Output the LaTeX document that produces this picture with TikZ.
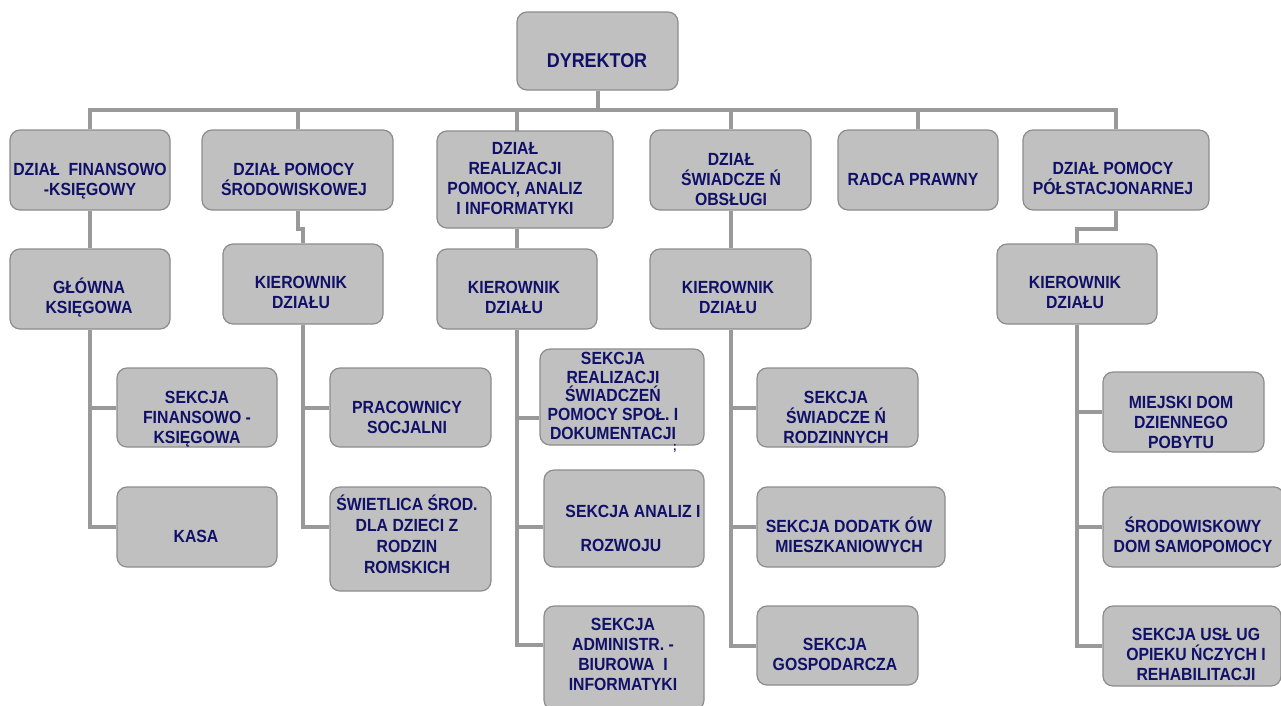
\documentclass[tikz,border=0pt]{standalone}
\usepackage{fontspec}
\setmainfont{Liberation Sans}[FakeStretch=0.897]
\usetikzlibrary{backgrounds}
\definecolor{navy}{RGB}{16,16,104}
\definecolor{boxfill}{RGB}{192,192,192}
\definecolor{boxline}{RGB}{140,140,140}
\definecolor{conncol}{RGB}{153,153,153}
\newcommand\lnA{\rule[-3.7pt]{0pt}{20pt}}
\newcommand\lnB{\rule[-3.075pt]{0pt}{18.75pt}}
\newcommand\lnC{\rule[-4.2pt]{0pt}{21pt}}
\newcommand\fntA{\fontsize{17.6}{20}\selectfont\bfseries\lineskiplimit=-100pt\relax}
\newcommand\fntB{\fontsize{17.6}{18.75}\selectfont\bfseries\lineskiplimit=-100pt\relax}
\newcommand\fntC{\fontsize{17.6}{21}\selectfont\bfseries\lineskiplimit=-100pt\relax}
\tikzset{
  orgbox/.style={draw=boxline, fill=boxfill, line width=1.2pt, rounded corners=10pt, inner sep=0pt},
  txt/.style={text=navy, align=center, inner sep=0pt, font=\fntA},
  txtB/.style={txt, font=\fntB},
  txtC/.style={txt, font=\fntC},
  conn/.style={draw=conncol, line width=4pt}
}
\begin{document}
\begin{tikzpicture}[x=1pt,y=-1pt]
\useasboundingbox (0,0) rectangle (1281,705);
% boxes
\node[orgbox, minimum width=161, minimum height=78] (dyr) at (597.5,51) {};
\node[orgbox, minimum width=160, minimum height=80] (d1) at (90,170) {};
\node[orgbox, minimum width=191, minimum height=80] (d2) at (297.5,170) {};
\node[orgbox, minimum width=176, minimum height=97] (d3) at (525,179.5) {};
\node[orgbox, minimum width=161, minimum height=80] (d4) at (730.5,170) {};
\node[orgbox, minimum width=160, minimum height=80] (d5) at (918,170) {};
\node[orgbox, minimum width=186, minimum height=80] (d6) at (1116,170) {};
\node[orgbox, minimum width=160, minimum height=80] (k1) at (90,289) {};
\node[orgbox, minimum width=160, minimum height=80] (k2) at (303,284) {};
\node[orgbox, minimum width=160, minimum height=80] (k3) at (517,289) {};
\node[orgbox, minimum width=161, minimum height=80] (k4) at (730.5,289) {};
\node[orgbox, minimum width=160, minimum height=80] (k6) at (1077,284) {};
\node[orgbox, minimum width=160, minimum height=79] (s11) at (197,407.5) {};
\node[orgbox, minimum width=160, minimum height=80] (s12) at (197,527) {};
\node[orgbox, minimum width=161, minimum height=79] (s21) at (410.5,407.5) {};
\node[orgbox, minimum width=161, minimum height=104] (s22) at (410.5,539) {};
\node[orgbox, minimum width=164, minimum height=96] (s31) at (622,397) {};
\node[orgbox, minimum width=160, minimum height=97] (s32) at (624,518.5) {};
\node[orgbox, minimum width=160, minimum height=104] (s33) at (624,658) {};
\node[orgbox, minimum width=161, minimum height=79] (s41) at (837.5,407.5) {};
\node[orgbox, minimum width=188, minimum height=80] (s42) at (851,527) {};
\node[orgbox, minimum width=161, minimum height=79] (s43) at (837.5,645.5) {};
\node[orgbox, minimum width=161, minimum height=80] (s61) at (1183.5,412) {};
\node[orgbox, minimum width=181, minimum height=80] (s62) at (1193.5,527) {};
\node[orgbox, minimum width=178, minimum height=80] (s63) at (1192,646) {};
% connectors
\coordinate (bus) at (0,110);
\coordinate (d3drop) at (517,131);
\coordinate (c31) at (517,418);
\coordinate (c32) at (517,527);
\coordinate (c33) at (517,645);
\coordinate (c22) at (303,527);
\begin{pgfonlayer}{background}
\draw[conn] (d1.north) -- (d1.north |- bus) -- (d6.north |- bus) -- (d6.north);
\draw[conn] (dyr.south) -- (dyr.south |- bus);
\draw[conn] (d2.north) -- (d2.north |- bus);
\draw[conn] (d3drop) -- (d3drop |- bus);
\draw[conn] (d4.north) -- (d4.north |- bus);
\draw[conn] (d5.north) -- (d5.north |- bus);
\draw[conn] (d1.south) -- (k1.north);
\draw[conn] (d2.south) -- ++(0,18) -| (k2.north);
\draw[conn] (k3.north |- d3.south) -- (k3.north);
\draw[conn] (d4.south) -- (k4.north);
\draw[conn] (d6.south) -- ++(0,18) -| (k6.north);
% column 1
\draw[conn] (k1.south) |- (s12.west);
\draw[conn] (k1.south |- s11.west) -- (s11.west);
% column 2
\draw[conn] (k2.south) -- (c22) -- (c22 -| s22.west);
\draw[conn] (k2.south |- s21.west) -- (s21.west);
% column 3
\draw[conn] (k3.south) -- (c33) -- (c33 -| s33.west);
\draw[conn] (c31) -- (c31 -| s31.west);
\draw[conn] (c32) -- (c32 -| s32.west);
% column 4
\draw[conn] (k4.south) |- (s43.west);
\draw[conn] (k4.south |- s41.west) -- (s41.west);
\draw[conn] (k4.south |- s42.west) -- (s42.west);
% column 6
\draw[conn] (k6.south) |- (s63.west);
\draw[conn] (k6.south |- s61.west) -- (s61.west);
\draw[conn] (k6.south |- s62.west) -- (s62.west);
\end{pgfonlayer}
% texts
\node[txt, font=\fontsize{20}{20}\selectfont\bfseries] (t0) at (597,61) {DYREKTOR};
\node[txt] (t1) at (90,179) {\lnA DZIAŁ\ \ FINANSOWO\\\lnA -KSIĘGOWY};
\node[txt] (t2) at (294,179) {\lnA DZIAŁ POMOCY\\\lnA ŚRODOWISKOWEJ};
\node[txt] (t3) at (515,178) {\lnA DZIAŁ\\\lnA REALIZACJI\\\lnA POMOCY, ANALIZ\\\lnA I INFORMATYKI};
\node[txt] (t4) at (731,179) {\lnA DZIAŁ\\\lnA ŚWIADCZE Ń\\\lnA OBSŁUGI};
\node[txt] (t5) at (913,179) {\lnA RADCA PRAWNY};
\node[txt] (t6) at (1113,178) {\lnA DZIAŁ POMOCY\\\lnA PÓŁSTACJONARNEJ};
\node[txt] (tk1) at (89,297.5) {\lnA GŁÓWNA\\\lnA KSIĘGOWA};
\node[txt] (tk2) at (301,292.5) {\lnA KIEROWNIK\\\lnA DZIAŁU};
\node[txt] (tk3) at (514,297) {\lnA KIEROWNIK\\\lnA DZIAŁU};
\node[txt] (tk4) at (728,297) {\lnA KIEROWNIK\\\lnA DZIAŁU};
\node[txt] (tk6) at (1075,292.5) {\lnA KIEROWNIK\\\lnA DZIAŁU};
\node[txt] (ts11) at (197,417) {\lnA SEKCJA\\\lnA FINANSOWO -\\\lnA KSIĘGOWA};
\node[txt] (ts12) at (196,536) {\lnA KASA};
\node[txt] (ts21) at (407,417) {\lnA PRACOWNICY\\\lnA SOCJALNI};
\node[txtC] (ts22) at (407,535.5) {\lnC ŚWIETLICA ŚROD.\\\lnC DLA DZIECI Z\\\lnC RODZIN\\\lnC ROMSKICH};
\node[txtB] (ts31) at (613,395.5) {\lnB SEKCJA\\\lnB REALIZACJI\\\lnB ŚWIADCZEŃ\\\lnB POMOCY SPOŁ. I\\\lnB DOKUMENTACJI};
\node[txt, font=\fontsize{12}{12}\selectfont\bfseries] (tq) at (675,448) {;};
\node[txt] (ts32a) at (633,511) {\lnA SEKCJA ANALIZ I};
\node[txt] (ts32b) at (621,545) {\lnA ROZWOJU};
\node[txt] (ts33) at (623,654) {\lnA SEKCJA\\\lnA ADMINISTR. -\\\lnA BIUROWA\ \ I\\\lnA INFORMATYKI};
\node[txt] (ts41) at (836,417) {\lnA SEKCJA\\\lnA ŚWIADCZE Ń\\\lnA RODZINNYCH};
\node[txt] (ts42) at (849,536.5) {\lnA SEKCJA DODATK ÓW\\\lnA MIESZKANIOWYCH};
\node[txt] (ts43) at (835,654) {\lnA SEKCJA\\\lnA GOSPODARCZA};
\node[txt] (ts61) at (1181,422) {\lnA MIEJSKI DOM\\\lnA DZIENNEGO\\\lnA POBYTU};
\node[txt] (ts62) at (1193,536) {\lnA ŚRODOWISKOWY\\\lnA DOM SAMOPOMOCY};
\node[txt] (ts63) at (1196,654) {\lnA SEKCJA USŁ UG\\\lnA OPIEKU ŃCZYCH I\\\lnA REHABILITACJI};
\end{tikzpicture}
\end{document}
